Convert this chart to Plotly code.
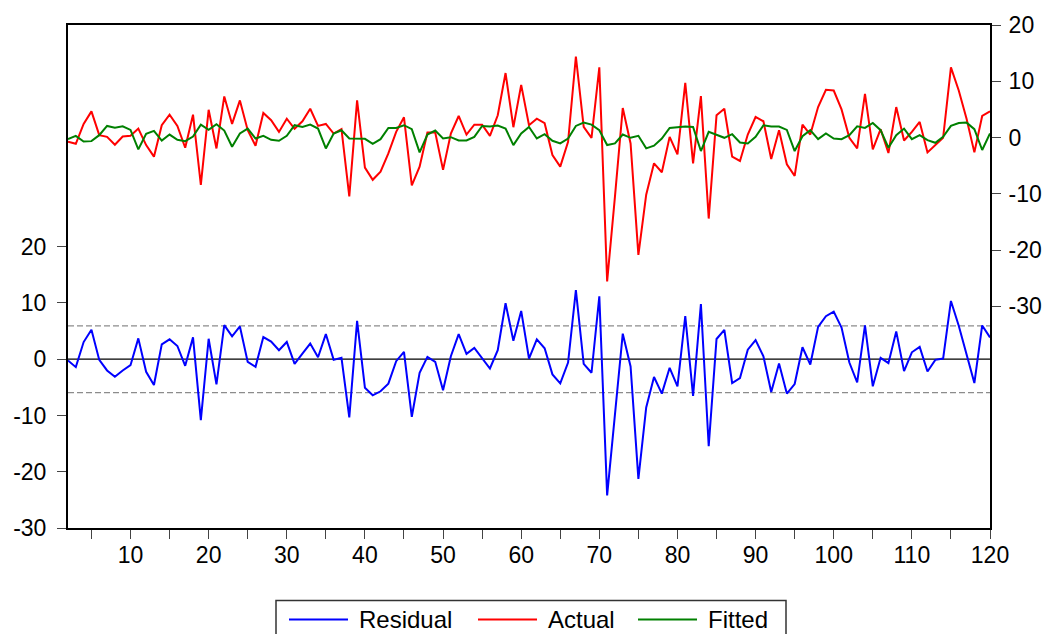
import plotly.graph_objects as go

# Observation index (sample 2-120)
obs = list(range(2, 121))

residual = [
    -0.24, -1.41, 3.05, 5.23, -0.12, -2.0, -3.12, -2.0, -1.06, 3.7,
    -2.24, -4.59, 2.65, 3.53, 2.35, -1.18, 3.88, -10.82, 3.64, -4.47,
    6.06, 4.06, 5.82, -0.47, -1.35, 3.94, 3.12, 1.59, 3.06, -0.82,
    1.0, 2.77, 0.35, 4.47, -0.12, 0.24, -10.35, 6.82, -5.06, -6.41,
    -5.7, -4.35, -0.35, 1.29, -10.23, -2.41, 0.41, -0.47, -5.53, 0.53,
    4.47, 0.94, 2.0, 0.12, -1.65, 1.59, 9.94, 3.29, 8.58, 0.12,
    3.53, 1.94, -2.7, -4.29, -0.59, 12.29, -0.82, -2.41, 11.17, -24.2,
    -9.45, 4.53, -1.29, -21.28, -8.58, -3.17, -6.11, -1.53, -4.82, 7.64,
    -6.53, 9.82, -15.46, 3.59, 5.23, -4.23, -3.35, 1.7, 3.41,
    0.53, -5.82, -0.76, -6.11, -4.41, 2.12, -0.94, 5.76, 7.64, 8.47,
    5.64, -0.59, -4.12, 6.0, -4.82, 0.24, -0.71, 4.94, -2.12, 1.23,
    2.18, -2.18, -0.12, 0.12, 10.35, 5.94, 0.82, -4.23, 6.0, 3.88,
]

actual = [
    -0.76, -1.11, 2.42, 4.65, 0.42, 0.12, -1.29, 0.18, 0.3, 1.59,
    -1.35, -3.4, 2.19, 4.06, 2.06, -1.82, 4.06, -8.4, 4.94, -1.94,
    7.3, 2.42, 6.6, 1.3, -1.46, 4.36, 3.07, 1.0, 3.35, 1.55,
    2.89, 5.12, 2.06, 2.42, 0.71, 1.48, -10.46, 6.6, -5.34, -7.51,
    -6.05, -2.82, 1.0, 3.6, -8.52, -5.17, 0.88, 0.88, -5.75, 0.71,
    3.83, 0.53, 2.29, 2.29, 0.3, 3.95, 11.46, 1.83, 9.35, 2.19,
    3.35, 2.54, -3.1, -5.17, -0.76, 14.4, 1.89, -0.05, 12.47, -25.57,
    -10.5, 5.24, -1.06, -20.86, -10.16, -4.59, -6.17, 0.12, -3.0, 9.7,
    -4.59, 7.35, -14.4, 3.95, 5.11, -3.4, -4.16, 0.53, 3.65,
    2.89, -3.82, 1.3, -4.76, -6.81, 2.29, 0.53, 5.41, 8.47, 8.35,
    5.0, -0.05, -1.93, 7.76, -2.11, 1.48, -2.76, 5.41, -0.53, 1.0,
    2.77, -2.64, -1.34, -0.05, 12.47, 8.35, 3.35, -2.64, 3.83, 4.65,
]

fitted = [
    -0.29, 0.3, -0.7, -0.64, 0.42, 2.06, 1.76, 2.0, 1.36, -2.11,
    0.65, 1.18, -0.53, 0.53, -0.41, -0.64, 0.18, 2.29, 1.36, 2.36,
    1.24, -1.64, 0.71, 1.59, -0.18, 0.3, -0.41, -0.58, 0.3, 2.19,
    1.89, 2.29, 1.59, -1.94, 0.71, 1.3, -0.18, -0.18, -0.23, -1.11,
    -0.29, 1.71, 1.71, 2.19, 1.48, -2.65, 0.53, 1.24, -0.18, 0.06,
    -0.53, -0.53, 0.12, 2.06, 1.94, 2.12, 1.59, -1.34, 0.71, 1.89,
    -0.17, 0.59, -0.58, -1.05, -0.17, 2.06, 2.65, 2.29, 1.3, -1.34,
    -1.05, 0.53, -0.05, 0.3, -1.93, -1.46, -0.17, 1.71, 1.83, 1.94,
    1.89, -2.4, 1.0, 0.42, -0.05, 0.59, -0.88, -1.05, 0.12,
    2.18, 1.94, 1.94, 1.36, -2.4, 0.24, 1.3, -0.29, 0.71, -0.18,
    -0.29, 0.42, 2.0, 1.71, 2.59, 1.3, -1.82, 0.42, 1.59, -0.29,
    0.42, -0.46, -0.93, 0.12, 2.06, 2.59, 2.65, 1.48, -2.22, 0.71,
]

# Standard error band around the residuals
se_band = 5.94

series_names = ["Residual", "Actual", "Fitted"]
series_colors = ["#0000FF", "#FF0000", "#008000"]

x_tickvals = list(range(5, 121, 5))
x_ticktext = [str(v) if v % 10 == 0 else "" for v in x_tickvals]
y_tickvals = [-30, -20, -10, 0, 10, 20]
y_ticktext = ["-30", "-20", "-10", "0", "10", "20"]

FONT = "Liberation Sans, Arial, sans-serif"

fig = go.Figure()
fig.add_trace(go.Scatter(x=obs, y=residual, name=series_names[0], mode="lines",
                         line=dict(color=series_colors[0], width=2), yaxis="y"))
fig.add_trace(go.Scatter(x=obs, y=actual, name=series_names[1], mode="lines",
                         line=dict(color=series_colors[1], width=2), yaxis="y2"))
fig.add_trace(go.Scatter(x=obs, y=fitted, name=series_names[2], mode="lines",
                         line=dict(color=series_colors[2], width=2), yaxis="y2"))

# zero line and +/- one standard error dashed lines (residual axis)
fig.add_shape(type="line", xref="paper", x0=0, x1=1, yref="y", y0=0, y1=0,
              line=dict(color="black", width=1.3), layer="below")
for s in (se_band, -se_band):
    fig.add_shape(type="line", xref="paper", x0=0, x1=1, yref="y", y0=s, y1=s,
                  line=dict(color="#8c8c8c", width=1.2, dash="6px,3px"), layer="below")

# legend drawn as a framed box below the axis
W, H = 1057, 634
ml, mr, mt, mb = 68, 67, 22, 106
pw, ph = W - ml - mr, H - mt - mb


def px(xp):
    return (xp - ml) / pw


def py(yp):
    return (H - mb - yp) / ph


fig.add_shape(type="rect", xref="paper", yref="paper",
              x0=px(276), x1=px(786), y0=py(601), y1=py(660),
              line=dict(color="#333333", width=1.5), fillcolor="white")
line_x = [289, 478, 638]
text_x = [357, 546, 706]
for name, color, lx, tx in zip(series_names, series_colors, line_x, text_x):
    fig.add_shape(type="line", xref="paper", yref="paper",
                  x0=px(lx), x1=px(lx + 59), y0=py(620), y1=py(620),
                  line=dict(color=color, width=2))
    fig.add_annotation(xref="paper", yref="paper", x=px(tx), y=py(620),
                       text=name, showarrow=False, xanchor="left", yanchor="middle",
                       font=dict(family=FONT, size=24, color="black"))

fig.update_layout(
    width=W, height=H,
    margin=dict(l=ml, r=mr, t=mt, b=mb),
    paper_bgcolor="white", plot_bgcolor="white",
    showlegend=False,
    font=dict(family=FONT, size=23, color="black"),
    xaxis=dict(range=[2, 120], tickmode="array", tickvals=x_tickvals, ticktext=x_ticktext,
               ticks="outside", ticklen=9, tickwidth=1, tickcolor="#444444",
               showline=True, linecolor="black", linewidth=2, mirror=True,
               showgrid=False, zeroline=False, ticklabelstandoff=-4),
    yaxis=dict(range=[-30, 59.4], tickmode="array", tickvals=y_tickvals, ticktext=y_ticktext,
               ticks="outside", ticklen=9, tickwidth=1, tickcolor="#444444",
               showline=True, linecolor="black", linewidth=2,
               showgrid=False, zeroline=False, ticklabelstandoff=6),
    yaxis2=dict(range=[-69.4, 20], overlaying="y", side="right",
                tickmode="array", tickvals=y_tickvals, ticktext=y_ticktext,
                ticks="outside", ticklen=9, tickwidth=1, tickcolor="#444444",
                showline=True, linecolor="black", linewidth=2,
                showgrid=False, zeroline=False, ticklabelstandoff=3),
)

fig.write_html("out.html")
